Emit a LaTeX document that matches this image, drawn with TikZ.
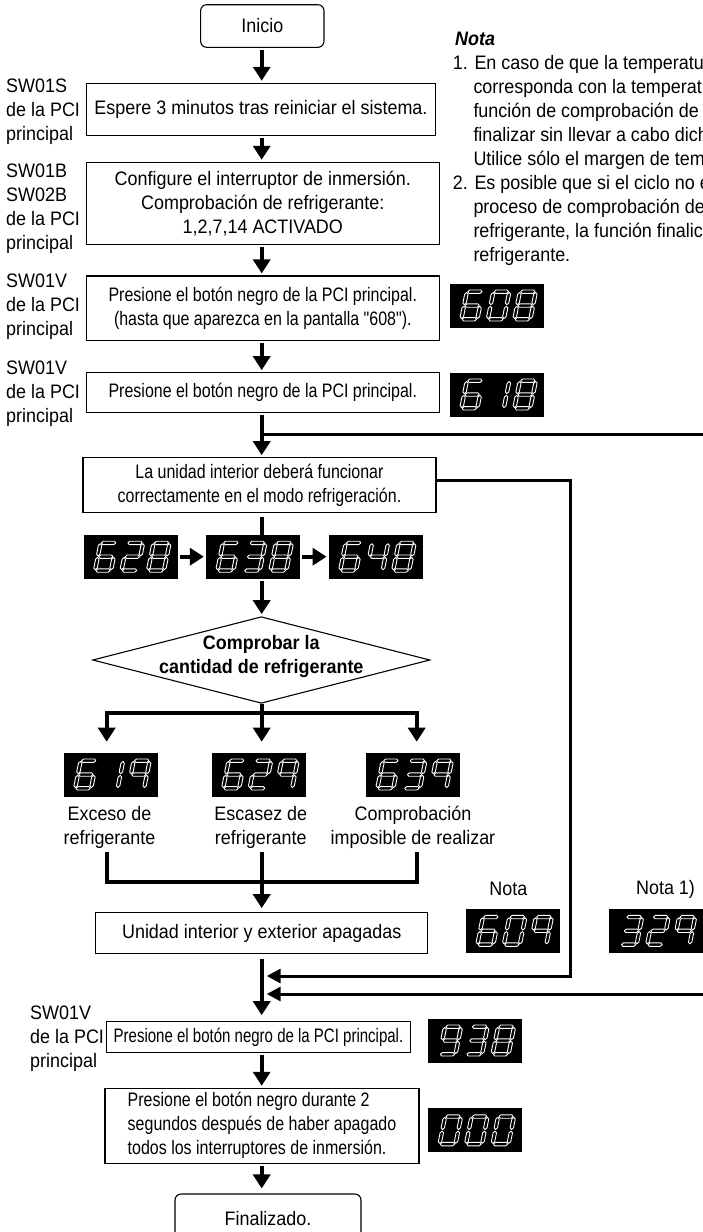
\documentclass[tikz,border=0pt]{standalone}
\usepackage{fontspec}
\setmainfont{Liberation Sans}
\newfontfamily\fa[FakeStretch=0.92]{Liberation Sans}
\newfontfamily\fb[FakeStretch=0.82]{Liberation Sans}
\newfontfamily\fc[FakeStretch=0.77]{Liberation Sans}
\usetikzlibrary{positioning,arrows.meta,shapes.geometric}

% 7セグメント表示
\newcommand\seghz[3]{\filldraw[seg] (#1,#3) -- (#1+1.7,#3+1.7) -- (#2-1.7,#3+1.7) -- (#2,#3) -- (#2-1.7,#3-1.7) -- (#1+1.7,#3-1.7) -- cycle;}
\newcommand\segvt[3]{\filldraw[seg] (#1,#2) -- (#1+1.7,#2+1.7) -- (#1+1.7,#3-1.7) -- (#1,#3) -- (#1-1.7,#3-1.7) -- (#1-1.7,#2+1.7) -- cycle;}
\newcommand\segma{\seghz{0.8}{15.2}{13.8}}
\newcommand\segmb{\segvt{16}{0.8}{13}}
\newcommand\segmc{\segvt{16}{-13}{-0.8}}
\newcommand\segmd{\seghz{0.8}{15.2}{-13.8}}
\newcommand\segme{\segvt{0}{-13}{-0.8}}
\newcommand\segmf{\segvt{0}{0.8}{13}}
\newcommand\segmg{\seghz{0.8}{15.2}{0}}
\def\dZero{a,b,c,d,e,f}
\def\dOne{b,c}
\def\dTwo{a,b,d,e,g}
\def\dThree{a,b,c,d,g}
\def\dFour{b,c,f,g}
\def\dSix{a,c,d,e,f,g}
\def\dEight{a,b,c,d,e,f,g}
\def\dNine{a,b,c,f,g}
\def\dNineB{a,b,c,d,f,g}
\newcommand\segdigit[2]{\begin{scope}[xshift=#1pt]\foreach \s in #2 {\csname segm\s\endcsname}\end{scope}}
\newcommand\showdigits[4]{%
  \begin{scope}[shift={(#1.center)},x=1pt,y=1pt,xslant=0.2]
    \segdigit{-32.9}{#2}\segdigit{-6.4}{#3}\segdigit{20.1}{#4}
  \end{scope}}

\tikzset{
  box/.style={draw,line width=1.1pt,align=center,inner sep=0pt},
  term/.style={box,rounded corners=6pt},
  txtb/.style={font=\fb\fontsize{19.5}{24}\selectfont},
  txtc/.style={font=\fc\fontsize{19.5}{24}\selectfont},
  flow/.style={line width=4pt,->,shorten <=2pt,shorten >=2pt},
  link/.style={line width=4pt},
  loopline/.style={line width=3pt,-{Triangle[width=14pt,length=14pt]},shorten >=5pt},
  disp/.style={fill=black,minimum width=94pt,minimum height=44pt,inner sep=0pt},
  seg/.style={draw=white,fill=black,line width=0.9pt,line join=round},
  sw/.style={align=left,anchor=west,inner sep=0pt},
}

\begin{document}
\begin{tikzpicture}[x=1pt,y=-1pt,>={Triangle[width=17pt,length=14pt]},
  font=\fa\fontsize{19.5}{24}\selectfont]
  \useasboundingbox (0,0) rectangle (703,1232);
  \fill[white] (0,0) rectangle (703,1232);
  \clip (0,0) rectangle (703,1232);
  \coordinate (ax) at (261.7,0);

  % 手順のボックス
  \node[term,minimum width=123.3pt,minimum height=42.6pt] (inicio) at (262.3,26) {Inicio};
  \node[box,minimum width=349.4pt,minimum height=52.4pt] (espere) at (261,109.5)
    {Espere 3 minutos tras reiniciar el sistema.};
  \node[box,minimum width=353pt,minimum height=82pt] (config) at (262.8,203.3)
    {Configure el interruptor de inmersión.\\Comprobación de refrigerante:\\1,2,7,14 ACTIVADO};
  \node[box,txtb,minimum width=353pt,minimum height=64.7pt] (pres1) at (262.8,308.3)
    {Presione el botón negro de la PCI principal.\\(hasta que aparezca en la pantalla "608").};
  \node[box,txtb,minimum width=353pt,minimum height=40pt] (pres2) at (262.8,392.7)
    {Presione el botón negro de la PCI principal.};
  \node[box,txtb,minimum width=353pt,minimum height=54.6pt] (unidad) at (259.5,485)
    {La unidad interior deberá funcionar\\correctamente en el modo refrigeración.};
  \node[diamond,draw,line width=1.1pt,inner sep=0pt,minimum width=337.3pt,minimum height=86.6pt] (dia) at (261.3,660) {};
  \node[font=\fa\bfseries\fontsize{19.5}{24}\selectfont,align=center] (diatxt) at (261.3,656.5)
    {Comprobar la\\cantidad de refrigerante};
  \node[box,minimum width=332pt,minimum height=40.6pt] (apag) at (261.7,933)
    {Unidad interior y exterior apagadas};
  \node[box,txtc,minimum width=303.6pt,minimum height=30.6pt] (pres3) at (258.5,1037)
    {Presione el botón negro de la PCI principal.};
  \node[box,txtb,align=left,minimum width=314pt,minimum height=75pt] (pres4) at (262,1125.8)
    {Presione el botón negro durante 2\\segundos después de haber apagado\\todos los interruptores de inmersión.};
  \node[term,minimum width=186pt,minimum height=50pt] (fin) at (268,1219) {Finalizado.};

  % 左側のスイッチ名
  \node[sw] (sw1) at (6,111.7) {SW01S\\de la PCI\\principal};
  \node[sw] (sw2) at (6,208.8) {SW01B\\SW02B\\de la PCI\\principal};
  \node[sw] (sw3) at (6,307) {SW01V\\de la PCI\\principal};
  \node[sw] (sw4) at (6,394.2) {SW01V\\de la PCI\\principal};
  \node[sw] (sw5) at (30,1039) {SW01V\\de la PCI\\principal};

  % 表示器
  \node[disp] (d608) at (497,305.5) {};   \showdigits{d608}{\dSix}{\dZero}{\dEight}
  \node[disp] (d618) at (497,394.5) {};   \showdigits{d618}{\dSix}{\dOne}{\dEight}
  \node[disp] (d628) at (130.7,556.7) {}; \showdigits{d628}{\dSix}{\dTwo}{\dEight}
  \node[disp] (d638) at (253,556.7) {};   \showdigits{d638}{\dSix}{\dThree}{\dEight}
  \node[disp] (d648) at (375.8,556.7) {}; \showdigits{d648}{\dSix}{\dFour}{\dEight}
  \node[disp] (d619) at (110.8,774.5) {}; \showdigits{d619}{\dSix}{\dOne}{\dNine}
  \node[disp] (d629) at (258.8,774.5) {}; \showdigits{d629}{\dSix}{\dTwo}{\dNine}
  \node[disp] (d639) at (413,774.5) {};   \showdigits{d639}{\dSix}{\dThree}{\dNine}
  \node[disp] (d609) at (513,930.8) {};   \showdigits{d609}{\dSix}{\dZero}{\dNine}
  \node[disp] (d329) at (656.3,930.8) {}; \showdigits{d329}{\dThree}{\dTwo}{\dNine}
  \node[disp] (d938) at (475.2,1040.5) {}; \showdigits{d938}{\dNineB}{\dThree}{\dEight}
  \node[disp] (d000) at (475.2,1130.3) {}; \showdigits{d000}{\dZero}{\dZero}{\dZero}

  % 結果の説明
  \node[align=center] (lexc) at (109.5,827) {Exceso de\\refrigerante};
  \node[align=center] (lesc) at (260.8,827) {Escasez de\\refrigerante};
  \node[align=center] (limp) at (413,827) {Comprobación\\imposible de realizar};
  \node (nota1) at (508.3,889.3) {Nota};
  \node (nota2) at (665.5,889.3) {Nota 1)};

  % 注記
  \node[anchor=base west,inner sep=0pt,font=\fa\bfseries\itshape\fontsize{19.5}{24}\selectfont] (nota) at (455,45.5) {Nota};
  \node[anchor=base west,inner sep=0pt] (n1) at (452.7,69.5) {1. En caso de que la temperatu};
  \foreach \t [count=\i] in {corresponda con la temperat,función de comprobación de,
      finalizar sin llevar a cabo dich,Utilice sólo el margen de tem}
    \node[anchor=base west,inner sep=0pt] at (473.3,69.5+24*\i) {\t};
  \node[anchor=base west,inner sep=0pt] (n2) at (452.7,189.5) {2. Es posible que si el ciclo no e};
  \foreach \t [count=\i] in {proceso de comprobación de,{refrigerante, la función finalic},refrigerante.}
    \node[anchor=base west,inner sep=0pt] at (473.3,189.5+24*\i) {\t};

  % 流れ
  \draw[flow] (inicio.south -| ax) -- (espere.north -| ax);
  \draw[flow] (espere.south -| ax) -- (config.north -| ax);
  \draw[flow] (config.south -| ax) -- (pres1.north -| ax);
  \draw[flow] (pres1.south -| ax) -- (pres2.north -| ax);
  \draw[flow] (pres2.south -| ax) -- (unidad.north -| ax);
  \coordinate (rtop) at (712,434.3);
  \draw[line width=3pt] (rtop) -- (rtop -| ax);
  \draw[link,shorten <=4pt] (unidad.south -| ax) -- (d638.north -| ax);
  \draw[flow] (d628) -- (d638);
  \draw[flow] (d638) -- (d648);
  \draw[flow] (d638.south -| ax) -- (dia.north -| ax);
  % 分岐
  \coordinate (brl) at (106.7,713.3);
  \coordinate (brr) at (416.7,713.3);
  \draw[link,<->,shorten <=10.6pt,shorten >=10.6pt] (brl |- d619.north) -- (brl) -- (brr) -- (brr |- d639.north);
  \draw[flow,shorten <=0pt,shorten >=10.6pt] (dia.south -| ax) -- (d629.north -| ax);
  % 合流
  \coordinate (mgl) at (106.7,881.7);
  \coordinate (mgr) at (416.7,881.7);
  \draw[link] (mgl |- lexc.south) -- (mgl) -- (mgr) -- (mgr |- limp.south);
  \draw[flow,shorten <=0pt,shorten >=4pt] (lesc.south -| ax) -- (apag.north -| ax);
  \draw[flow,shorten <=5pt,shorten >=6pt] (apag.south -| ax) -- (pres3.north -| ax);
  % 右からの戻り
  \coordinate (rbend) at (570,976);
  \draw[loopline] ([yshift=5pt]unidad.east) -| (rbend) -- (rbend -| ax);
  \coordinate (rbot) at (712,994);
  \draw[loopline] (rbot) -- (rbot -| ax);
  \draw[flow] (pres3.south -| ax) -- (pres4.north -| ax);
  \draw[flow,shorten >=5pt] (pres4.south -| ax) -- (fin.north -| ax);
\end{tikzpicture}
\end{document}
